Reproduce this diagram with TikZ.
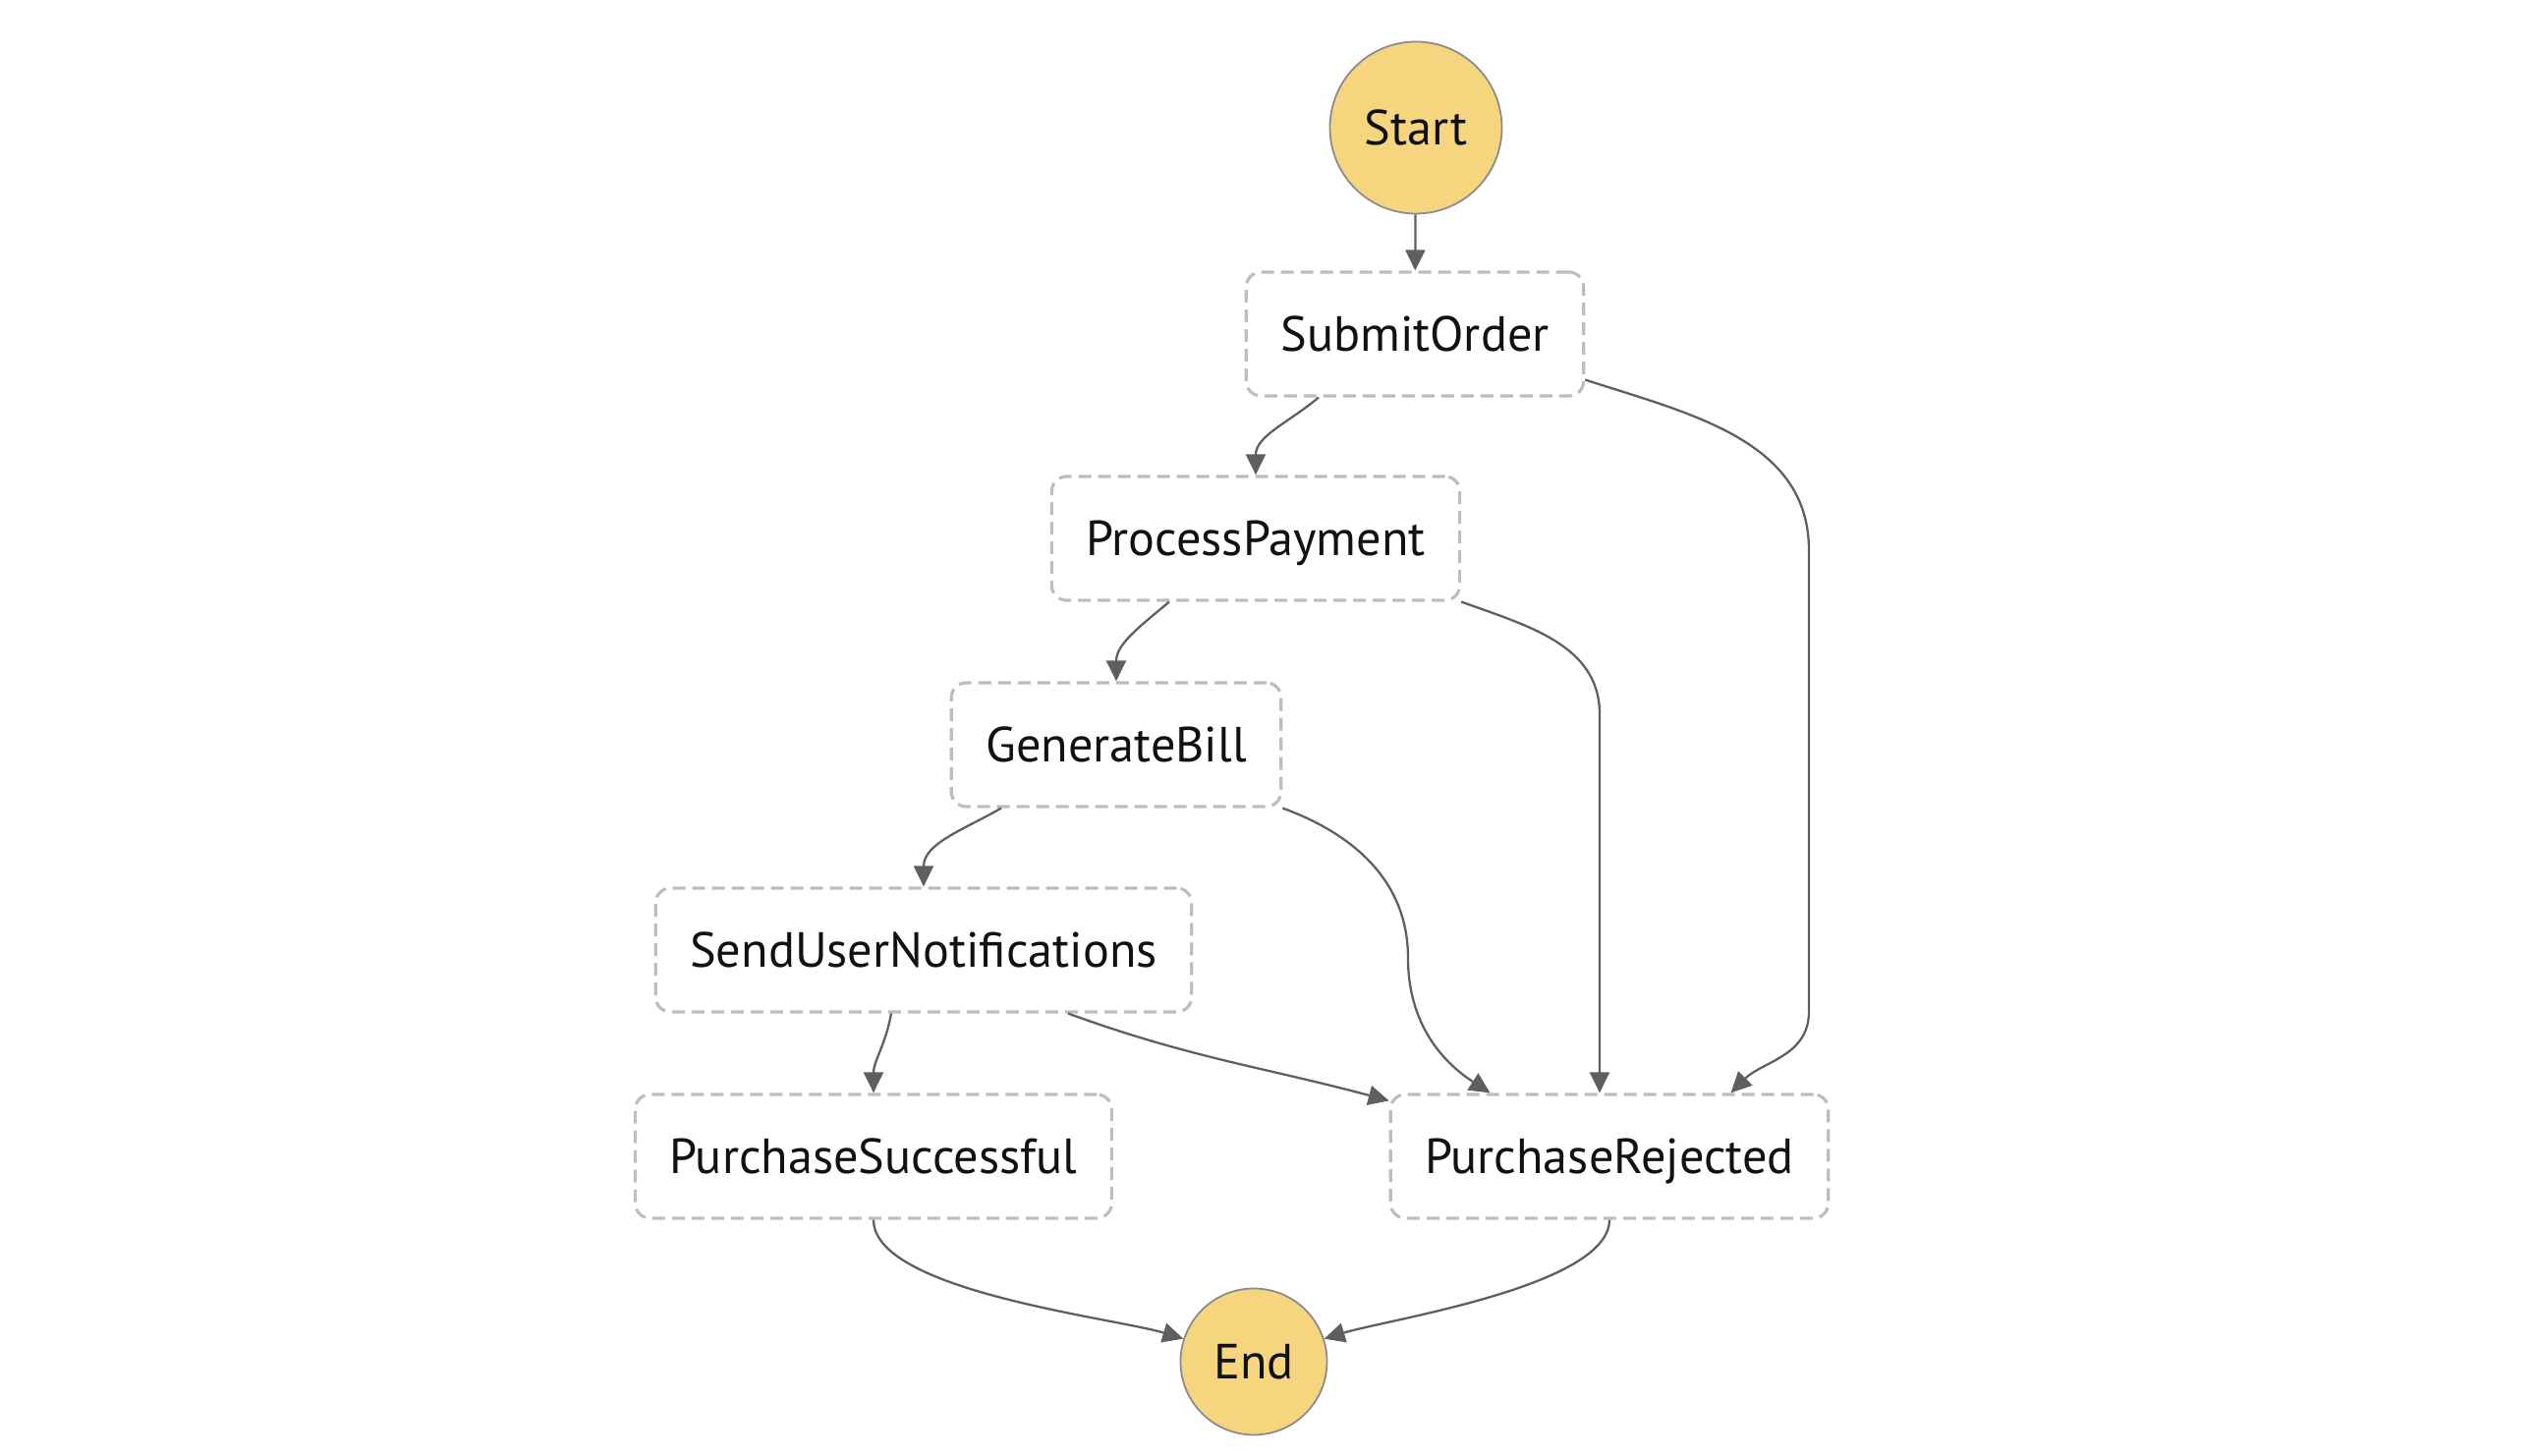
\documentclass[tikz,border=0pt]{standalone}
\usepackage{fontspec}
\setmainfont{PT Sans}
\usetikzlibrary{arrows.meta}
\definecolor{stategray}{HTML}{BDBDBD}
\definecolor{flowgray}{HTML}{5F5F5F}
\definecolor{startyellow}{HTML}{F6D57F}
\definecolor{edgegray}{HTML}{8A8A8A}
\definecolor{textdark}{HTML}{0F1115}

\begin{document}
\begin{tikzpicture}[
    state/.style={draw=stategray, line width=0.9pt, dash pattern=on 0.13cm off 0.07cm,
      rounded corners=0.15cm, minimum height=1.26cm, inner xsep=0.35cm,
      text height=11.8pt, text depth=2pt,
      text=textdark, font=\fontsize{14.3}{16}\selectfont},
    terminal/.style={circle, draw=edgegray, line width=0.5pt, fill=startyellow,
      inner sep=0pt, text height=11.8pt, text depth=2pt,
      text=textdark, font=\fontsize{14.3}{16}\selectfont},
    flow/.style={draw=flowgray, line width=0.65pt, -{Triangle[length=0.21cm, width=0.2cm]}}
  ]
  \useasboundingbox (0,0) rectangle (25.82,14.82);
  % states
  \node[terminal, minimum size=1.75cm] (start) at (14.41,13.52) {Start};
  \node[state] (submit) at (14.40,11.42) {SubmitOrder};
  \node[state] (process) at (12.78,9.34) {ProcessPayment};
  \node[state] (bill) at (11.36,7.24) {GenerateBill};
  \node[state] (notify) at (9.40,5.15) {SendUserNotifications};
  \node[state] (success) at (8.89,3.05) {PurchaseSuccessful};
  \node[state] (rejected) at (16.38,3.05) {PurchaseRejected};
  \node[terminal, minimum size=1.49cm] (end) at (12.76,0.96) {End};
  % bends of the long transitions
  \coordinate (subbend) at (18.41,9.22);
  \coordinate (subdown) at (18.41,4.52);
  \coordinate (procbend) at (16.28,7.55);
  \coordinate (billbend) at (14.33,5.07);
  % main path
  \draw[flow] (start) -- (submit);
  \draw[flow] ([xshift=-0.98cm]submit.south) to[out=-140, in=90] (process.north);
  \draw[flow] ([xshift=-0.88cm]process.south) to[out=-140, in=90] (bill.north);
  \draw[flow] ([xshift=-1.17cm]bill.south) to[out=-150, in=90] (notify.north);
  \draw[flow] ([xshift=-0.33cm]notify.south) to[out=-100, in=90] (success.north);
  % rejections
  \draw[flow] ([yshift=0.18cm]submit.south east) to[out=-18, in=90] (subbend) -- (subdown)
    to[out=-90, in=45] ([xshift=1.235cm]rejected.north);
  \draw[flow] (process.south east) to[out=-20, in=90] (procbend) -- ([xshift=-0.1cm]rejected.north);
  \draw[flow] (bill.south east) to[out=-20, in=90] (billbend) to[out=-90, in=147] ([xshift=-1.215cm]rejected.north);
  \draw[flow] ([xshift=1.47cm]notify.south) to[out=-20, in=165] ([yshift=-0.08cm]rejected.north west);
  % to the end
  \draw[flow] (success.south) to[out=-90, in=163, looseness=0.55] (end.162);
  \draw[flow] (rejected.south) to[out=-90, in=17, looseness=0.55] (end.18);
\end{tikzpicture}
\end{document}
